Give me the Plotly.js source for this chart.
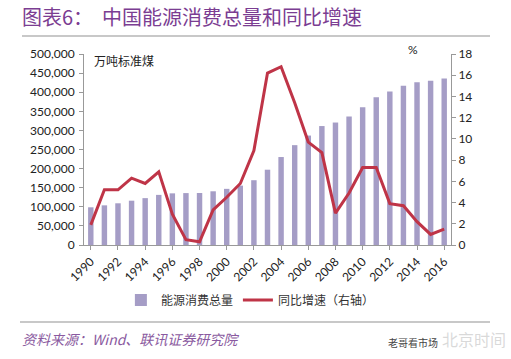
<!DOCTYPE html>
<html><head><meta charset="utf-8">
<script src="https://cdn.plot.ly/plotly-3.0.1.min.js"></script>
<style>html,body{margin:0;padding:0;background:#fff;}#chart{width:511px;height:359px;}</style>
</head><body><div id="chart"></div>
<script>
const years = [1990,1991,1992,1993,1994,1995,1996,1997,1998,1999,2000,2001,2002,2003,2004,2005,2006,2007,2008,2009,2010,2011,2012,2013,2014,2015,2016];
const consumption = [98700,103800,109200,116000,122700,131200,135200,135900,136200,140600,147000,155500,169600,197100,230300,261400,286500,311400,320600,336100,360600,387000,402100,416900,425800,429900,436000];
const growth = [1.9,5.2,5.2,6.3,5.8,6.9,2.9,0.5,0.3,3.3,4.5,5.8,8.9,16.2,16.8,13.4,9.7,8.7,3.0,4.9,7.3,7.3,3.9,3.7,2.2,1.0,1.5];
const leftTicks = [0,50000,100000,150000,200000,250000,300000,350000,400000,450000,500000];
const rightTicks = [0,2,4,6,8,10,12,14,16,18];
const xTicks = [1990,1992,1994,1996,1998,2000,2002,2004,2006,2008,2010,2012,2014,2016];

const tickFont = {family:'Lato, "Liberation Sans", sans-serif', size:12, color:'#222'};
const cjk = '"Noto Sans CJK SC", sans-serif';
const PW = 367, PH = 191, L = 84, T = 54;
const px = x => (x - L) / PW;
const py = y => (T + PH - y) / PH;

const data = [
  {type:'bar', x:years, y:consumption, name:'能源消费总量', marker:{color:'#a59dc6'}, width:0.4, yaxis:'y'},
  {type:'scatter', mode:'lines', x:years, y:growth, name:'同比增速（右轴）', line:{color:'#bf3447', width:3}, yaxis:'y2'}
];
const layout = {
  width:511, height:359,
  margin:{l:84, r:60, t:54, b:114},
  paper_bgcolor:'#fff', plot_bgcolor:'#fff',
  title:{text:'图表6：  中国能源消费总量和同比增速', font:{family:cjk, size:20, color:'#7b3d92'}, xref:'container', yref:'container', x:22/511, xanchor:'left', y:1-18/359, yanchor:'middle'},
  showlegend:true,
  legend:{orientation:'h', x:0.49, xanchor:'center', xref:'container', y:1-300/359, yref:'container', yanchor:'middle', font:{family:cjk, size:12, color:'#333'}, itemwidth:30, traceorder:'normal'},
  xaxis:{type:'linear', range:[1989.5,2016.5], tickvals:xTicks, ticktext:xTicks.map(String), tickangle:-45, tickfont:tickFont, showgrid:false, zeroline:false, showline:true, linecolor:'#999', linewidth:1, ticks:'outside', ticklen:4, tickcolor:'#999'},
  yaxis:{range:[0,500000], tickvals:leftTicks, ticktext:leftTicks.map(v=>v.toLocaleString('en-US')), tickfont:tickFont, showgrid:false, zeroline:false, showline:true, linecolor:'#999', linewidth:1, ticks:'outside', ticklen:4, tickcolor:'#999', ticklabelstandoff:2},
  yaxis2:{range:[0,18], overlaying:'y', side:'right', tickvals:rightTicks, tickfont:tickFont, showgrid:false, zeroline:false, showline:true, linecolor:'#999', linewidth:1, ticks:'outside', ticklen:4, tickcolor:'#999'},
  bargap:0.5,
  shapes:[
    {type:'line', xref:'paper', yref:'paper', x0:px(22), x1:px(490), y0:py(36), y1:py(36), line:{color:'#c8c8c8', width:2}},
    {type:'line', xref:'paper', yref:'paper', x0:px(20), x1:px(490), y0:py(322), y1:py(322), line:{color:'#c8c8c8', width:2}}
  ],
  annotations:[
    {text:'万吨标准煤', xref:'paper', yref:'paper', x:px(92), y:py(60), xanchor:'left', yanchor:'middle', showarrow:false, font:{family:cjk, size:12, color:'#222'}},
    {text:'%', xref:'paper', yref:'paper', x:px(413), y:py(50), xanchor:'center', yanchor:'middle', showarrow:false, font:{family:tickFont.family, size:12, color:'#222'}},
    {text:'资料来源：Wind、联讯证券研究院', xref:'paper', yref:'paper', x:px(20), y:py(339), xanchor:'left', yanchor:'middle', showarrow:false, font:{family:cjk, size:14, color:'#8a5aa0', style:'italic'}},
    {text:'北京时间', xref:'paper', yref:'paper', x:px(508), y:py(339), xanchor:'right', yanchor:'middle', showarrow:false, font:{family:cjk, size:16, color:'rgba(180,180,180,0.5)'}},
    {text:'老哥看市场', xref:'paper', yref:'paper', x:px(440), y:py(342), xanchor:'right', yanchor:'middle', showarrow:false, font:{family:cjk, size:10, color:'#444'}}
  ]
};
Plotly.newPlot('chart', data, layout, {displayModeBar:false, staticPlot:true});
</script></body></html>
